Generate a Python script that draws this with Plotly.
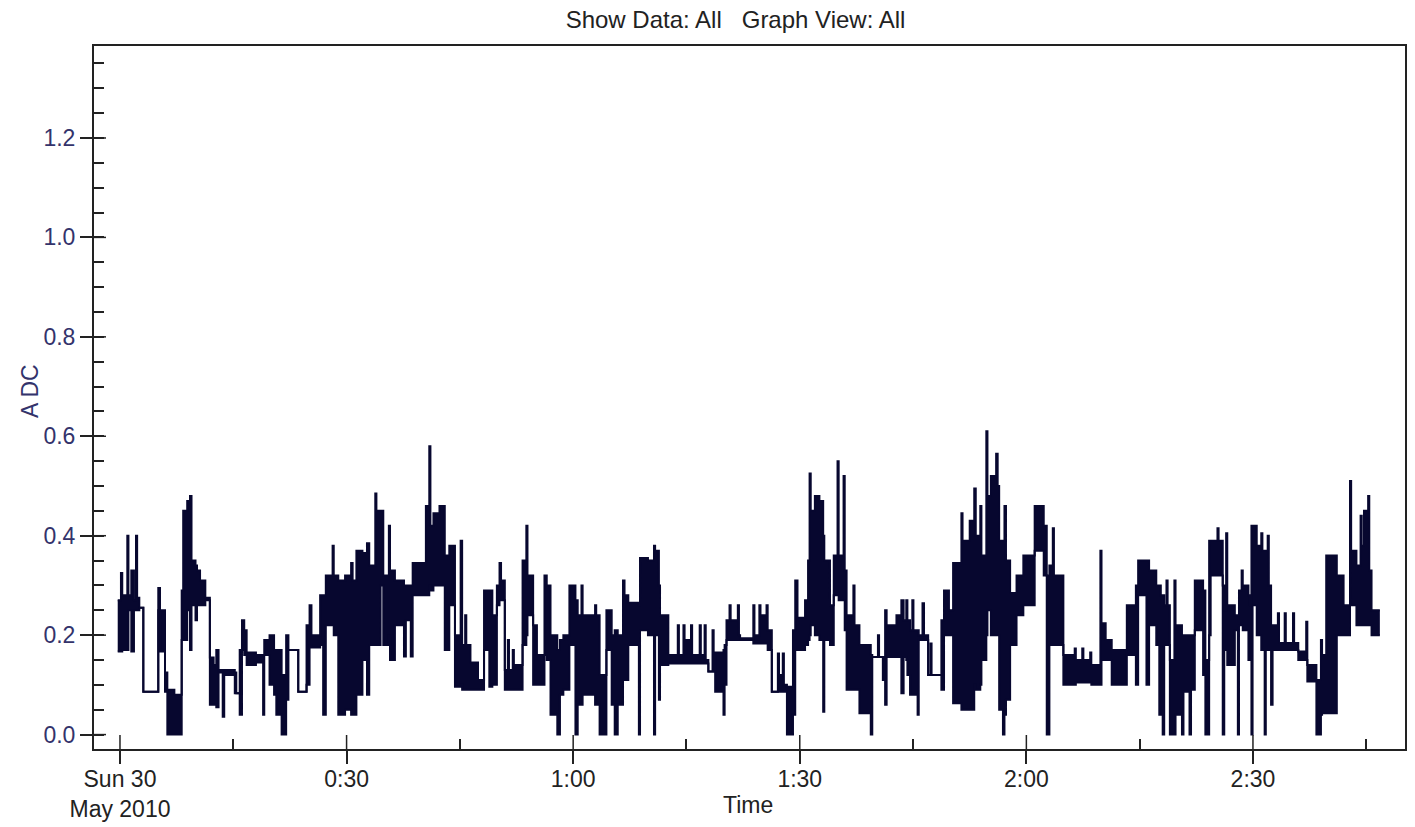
import plotly.graph_objects as go

# ---------------- data (minutes after Sun 30 May 2010 00:00, amps DC) ----------------
# Each segment starts at seg_start_min and spans until the next start.
# seg_high / seg_low give the upper and lower envelope of the trace inside the segment.
seg_start_min = [
    # 0:00 - 0:20
    -0.3, 0.13, 0.3, 0.97, 1.12, 1.5, 1.85, 2.12,
    2.27, 2.56, 3.09, 5.07, 5.3, 5.96, 6.27, 7.2,
    8.17, 8.37, 8.9, 9.27, 9.47, 10.0, 10.2, 10.6,
    11.3, 11.9, 12.4, 12.75, 13.05, 13.6, 13.8, 15.2,
    15.4, 15.85, 16.15, 16.45, 16.77, 18.0, 18.95, 19.1,
    # 0:20 - 0:41
    19.8, 20.4, 20.7, 21.4, 22.0, 22.3, 23.6, 24.7,
    25.1, 25.35, 26.5, 26.9, 27.25, 28.15, 28.3, 28.9,
    29.8, 30.6, 30.8, 31.3, 32.1, 32.7, 33.0, 33.8,
    33.95, 34.5, 34.86, 35.6, 35.75, 36.4, 37.6, 37.85,
    38.5, 38.75, 40.5, 40.95,
    # 0:41 - 1:03
    41.1, 41.5, 42.3, 43.0, 43.6, 44.35, 45.1, 45.3,
    45.7, 45.85, 46.4, 47.4, 48.2, 48.9, 49.3, 49.9,
    50.25, 50.45, 50.95, 51.35, 51.5, 52.0, 52.15, 53.3,
    53.8, 53.95, 54.7, 55.2, 56.2, 56.5, 57.0, 57.9,
    58.25, 58.7, 59.5, 60.3, 60.6, 61.1, 61.25, 62.9,
    63.05,
    # 1:03 - 1:24
    63.5, 64.4, 65.1, 65.5, 65.9, 66.6, 66.8, 67.3,
    68.7, 68.85, 69.9, 70.7, 70.85, 71.35, 71.5, 72.6,
    73.85, 74.0, 74.6, 74.75, 75.6, 75.75, 76.75, 76.9,
    77.4, 77.55, 77.9, 78.45, 78.6, 78.8, 79.9, 80.05,
    80.3, 80.7, 80.85, 81.8, 81.95, 82.1, 83.85,
    # 1:24 - 1:44
    84.0, 84.65, 84.8, 85.6, 85.75, 86.3, 87.1, 87.25,
    87.75, 87.9, 88.3, 89.1, 89.4, 89.7, 90.7, 91.1,
    91.3, 91.45, 92.0, 92.6, 93.1, 93.25, 94.0, 94.5,
    95.0, 95.15, 95.8, 95.95, 96.2, 97.1, 97.25, 97.9,
    99.4, 99.6, 100.35, 100.5, 101.0, 101.3, 101.5, 102.8,
    103.45, 103.75, 104.1, 104.25,
    # 1:44 - 2:06
    104.6, 104.9, 105.05, 105.6, 105.75, 106.25, 106.45, 107.0,
    107.3, 107.45, 108.75, 109.1, 109.75, 110.3, 111.4, 111.55,
    112.5, 113.1, 113.3, 113.9, 114.05, 114.7, 114.85, 115.3,
    116.0, 116.2, 116.4, 116.9, 117.1, 117.3, 117.85, 118.7,
    119.6, 121.1, 122.3, 122.7, 123.05, 123.5, 123.65, 124.9,
    # 2:06 - 2:26
    126.4, 126.55, 127.4, 127.55, 128.45, 128.6, 129.8, 129.95,
    130.5, 131.3, 133.3, 134.5, 134.8, 135.9, 136.25, 137.2,
    137.6, 137.8, 138.05, 138.25, 138.55, 138.7, 139.0, 139.6,
    139.75, 140.6, 140.8, 141.6, 141.8, 142.3, 143.4, 143.7,
    144.2, 144.4, 145.3, 145.45, 146.0, 146.2, 146.45,
    # 2:26 - 2:47
    146.6, 147.6, 148.0, 148.15, 148.5, 148.65, 149.4, 149.6,
    149.8, 149.95, 150.5, 151.1, 151.25, 151.55, 151.7, 151.95,
    152.1, 152.4, 152.6, 153.3, 153.45, 154.2, 154.35, 155.3,
    155.45, 156.0, 157.05, 157.2, 158.4, 159.0, 159.15, 159.7,
    161.1, 162.0, 162.85, 163.0, 163.7, 164.25, 164.4, 164.7,
    165.25, 165.4, 165.7,
]
seg_high = [
    0.27, 0.325, 0.28, 0.40, 0.28, 0.33, 0.27, 0.40,
    0.275, 0.255, 0.086, 0.295, 0.25, 0.125, 0.09, 0.08,
    0.29, 0.45, 0.47, 0.48, 0.35, 0.34, 0.33, 0.31,
    0.275, 0.155, 0.14, 0.17, 0.13, 0.13, 0.13, 0.125,
    0.083, 0.17, 0.23, 0.21, 0.165, 0.16, 0.16, 0.19,
    0.2, 0.17, 0.17, 0.12, 0.2, 0.17, 0.086, 0.22,
    0.26, 0.2, 0.28, 0.28, 0.32, 0.38, 0.32, 0.31,
    0.32, 0.345, 0.31, 0.37, 0.365, 0.385, 0.34, 0.485,
    0.45, 0.45, 0.32, 0.42, 0.33, 0.31, 0.30, 0.30,
    0.30, 0.345, 0.46, 0.58,
    0.42, 0.445, 0.46, 0.36, 0.38, 0.2, 0.39, 0.18,
    0.24, 0.18, 0.145, 0.11, 0.29, 0.29, 0.24, 0.3,
    0.345, 0.31, 0.13, 0.19, 0.13, 0.17, 0.14, 0.35,
    0.42, 0.32, 0.22, 0.16, 0.32, 0.3, 0.2, 0.17,
    0.19, 0.2, 0.30, 0.27, 0.24, 0.3, 0.24, 0.26,
    0.24,
    0.12, 0.25, 0.2, 0.21, 0.2, 0.31, 0.28, 0.265,
    0.26, 0.355, 0.35, 0.38, 0.37, 0.3, 0.24, 0.16,
    0.22, 0.16, 0.22, 0.19, 0.22, 0.16, 0.22, 0.16,
    0.22, 0.15, 0.127, 0.21, 0.127, 0.165, 0.17, 0.18,
    0.23, 0.26, 0.23, 0.26, 0.2, 0.194, 0.26,
    0.2, 0.26, 0.24, 0.26, 0.21, 0.086, 0.163, 0.12,
    0.163, 0.1, 0.096, 0.21, 0.31, 0.235, 0.27, 0.35,
    0.525, 0.45, 0.48, 0.47, 0.4, 0.35, 0.26, 0.36,
    0.55, 0.36, 0.52, 0.33, 0.24, 0.30, 0.22, 0.18,
    0.16, 0.156, 0.2, 0.156, 0.156, 0.25, 0.22, 0.24,
    0.27, 0.23, 0.27, 0.23,
    0.21, 0.27, 0.21, 0.21, 0.2, 0.264, 0.2, 0.12,
    0.183, 0.12, 0.23, 0.29, 0.25, 0.345, 0.445, 0.39,
    0.43, 0.495, 0.4, 0.46, 0.36, 0.61, 0.48, 0.52,
    0.565, 0.5, 0.39, 0.39, 0.46, 0.35, 0.285, 0.32,
    0.36, 0.46, 0.42, 0.32, 0.34, 0.415, 0.32, 0.16,
    0.173, 0.15, 0.173, 0.15, 0.165, 0.14, 0.37, 0.224,
    0.19, 0.17, 0.26, 0.3, 0.35, 0.35, 0.33, 0.3,
    0.3, 0.28, 0.28, 0.26, 0.31, 0.26, 0.15, 0.31,
    0.22, 0.2, 0.2, 0.2, 0.2, 0.31, 0.29, 0.15,
    0.39, 0.39, 0.415, 0.39, 0.3, 0.25, 0.405,
    0.26, 0.24, 0.24, 0.29, 0.33, 0.3, 0.28, 0.26,
    0.42, 0.42, 0.38, 0.405, 0.37, 0.37, 0.37, 0.4,
    0.3, 0.22, 0.22, 0.244, 0.184, 0.244, 0.184, 0.244,
    0.184, 0.167, 0.227, 0.14, 0.11, 0.19, 0.16, 0.36,
    0.32, 0.26, 0.51, 0.37, 0.34, 0.44, 0.38, 0.45,
    0.48, 0.33, 0.25,
]
seg_low = [
    0.167, 0.167, 0.17, 0.17, 0.25, 0.167, 0.25, 0.25,
    0.25, 0.255, 0.086, 0.25, 0.167, 0.086, 0.0, 0.0,
    0.19, 0.19, 0.25, 0.17, 0.26, 0.23, 0.26, 0.26,
    0.27, 0.06, 0.06, 0.055, 0.125, 0.036, 0.12, 0.083,
    0.083, 0.04, 0.17, 0.16, 0.14, 0.145, 0.04, 0.16,
    0.1, 0.08, 0.04, 0.0, 0.07, 0.17, 0.086, 0.1,
    0.18, 0.175, 0.18, 0.04, 0.22, 0.22, 0.2, 0.04,
    0.05, 0.04, 0.04, 0.08, 0.15, 0.08, 0.18, 0.18,
    0.18, 0.3, 0.18, 0.2, 0.15, 0.22, 0.157, 0.23,
    0.157, 0.28, 0.28, 0.3,
    0.29, 0.30, 0.30, 0.17, 0.26, 0.096, 0.1, 0.09,
    0.09, 0.09, 0.09, 0.09, 0.17, 0.096, 0.1, 0.26,
    0.27, 0.27, 0.09, 0.09, 0.09, 0.09, 0.09, 0.18,
    0.2, 0.24, 0.1, 0.1, 0.16, 0.15, 0.04, 0.0,
    0.08, 0.09, 0.18, 0.0, 0.06, 0.06, 0.08, 0.06,
    0.06,
    0.0, 0.17, 0.06, 0.0, 0.06, 0.11, 0.11, 0.18,
    0.0, 0.21, 0.2, 0.0, 0.2, 0.07, 0.14, 0.143,
    0.143, 0.143, 0.143, 0.143, 0.143, 0.143, 0.143, 0.143,
    0.143, 0.143, 0.127, 0.127, 0.127, 0.086, 0.04, 0.1,
    0.19, 0.19, 0.19, 0.19, 0.19, 0.19, 0.183,
    0.183, 0.183, 0.183, 0.183, 0.17, 0.086, 0.086, 0.086,
    0.086, 0.086, 0.0, 0.04, 0.17, 0.17, 0.18, 0.19,
    0.2, 0.22, 0.2, 0.19, 0.046, 0.19, 0.18, 0.28,
    0.28, 0.27, 0.27, 0.21, 0.09, 0.09, 0.09, 0.043,
    0.0, 0.156, 0.156, 0.156, 0.11, 0.06, 0.156, 0.156,
    0.083, 0.156, 0.15, 0.12,
    0.08, 0.08, 0.08, 0.04, 0.19, 0.19, 0.19, 0.12,
    0.12, 0.12, 0.09, 0.2, 0.2, 0.063, 0.05, 0.05,
    0.05, 0.1, 0.09, 0.1, 0.15, 0.2, 0.25, 0.2,
    0.2, 0.2, 0.05, 0.0, 0.04, 0.07, 0.18, 0.24,
    0.26, 0.37, 0.32, 0.0, 0.18, 0.18, 0.18, 0.1,
    0.1, 0.105, 0.105, 0.105, 0.105, 0.1, 0.1, 0.15,
    0.15, 0.1, 0.16, 0.1, 0.28, 0.1, 0.22, 0.18,
    0.04, 0.18, 0.0, 0.18, 0.18, 0.18, 0.0, 0.0,
    0.04, 0.0, 0.086, 0.0, 0.09, 0.21, 0.12, 0.0,
    0.2, 0.32, 0.32, 0.32, 0.0, 0.17, 0.17,
    0.14, 0.21, 0.0, 0.22, 0.22, 0.21, 0.15, 0.15,
    0.0, 0.26, 0.2, 0.17, 0.17, 0.0, 0.17, 0.17,
    0.17, 0.06, 0.17, 0.17, 0.17, 0.17, 0.17, 0.17,
    0.17, 0.15, 0.15, 0.107, 0.0, 0.04, 0.043, 0.043,
    0.2, 0.2, 0.26, 0.26, 0.22, 0.22, 0.22, 0.22,
    0.22, 0.22, 0.2,
]
end_min = 166.8

x_tick_vals = [0, 30, 60, 90, 120, 150]
x_tick_text = ["Sun 30<br>May 2010", "0:30", "1:00", "1:30", "2:00", "2:30"]
x_minor_vals = [15, 45, 75, 105, 135, 165]
y_tick_vals = [0.0, 0.2, 0.4, 0.6, 0.8, 1.0, 1.2]
y_tick_text = ["0.0", "0.2", "0.4", "0.6", "0.8", "1.0", "1.2"]

assert len(seg_start_min) == len(seg_high) == len(seg_low), (
    len(seg_start_min), len(seg_high), len(seg_low))

# ---------------- figure ----------------
LINE = "#07072f"
NAVY = "#33336b"
DARK = "#222222"
FONT = "Liberation Sans, Arial, sans-serif"
FS = 23

xs = seg_start_min + [end_min]
y_hi = seg_high + [seg_high[-1]]
y_lo = seg_low + [seg_low[-1]]

fig = go.Figure()
fig.add_trace(go.Scatter(x=xs, y=y_lo, mode="lines",
                         line=dict(color=LINE, width=2, shape="hv"),
                         hoverinfo="skip", showlegend=False))
fig.add_trace(go.Scatter(x=xs, y=y_hi, mode="lines",
                         line=dict(color=LINE, width=2, shape="hv"),
                         fill="tonexty", fillcolor=LINE,
                         showlegend=False))

W, H = 1415, 827
ML, MR, MT, MB = 94, 10, 46, 78
plot_w = W - ML - MR
plot_h = H - MT - MB

# inner halves of the major ticks (ticks cross the axis lines)
shapes = []
for v in x_tick_vals:
    shapes.append(dict(type="line", xref="x", yref="paper", x0=v, x1=v,
                       y0=0, y1=14 / plot_h, line=dict(color=DARK, width=1.5)))
for v in y_tick_vals:
    shapes.append(dict(type="line", xref="paper", yref="y", x0=0, x1=12 / plot_w,
                       y0=v, y1=v, line=dict(color=DARK, width=1.5)))

fig.update_layout(
    width=W, height=H,
    margin=dict(l=ML, r=MR, t=MT, b=MB, autoexpand=False),
    paper_bgcolor="white", plot_bgcolor="white",
    font=dict(family=FONT, size=FS, color=DARK),
    title=dict(text="Show Data: All\u00a0\u00a0\u00a0Graph View: All",
               x=735.5 / W, xanchor="center", xref="container",
               y=1 - 20 / H, yanchor="middle", yref="container",
               font=dict(family=FONT, size=24, color=DARK)),
    xaxis=dict(range=[-3.44, 170.13], tickmode="array",
               tickvals=x_tick_vals, ticktext=x_tick_text,
               ticks="outside", ticklen=13, tickwidth=1.5, tickcolor=DARK,
               ticklabelstandoff=-5,
               showline=True, linecolor=DARK, linewidth=2, mirror=True,
               showgrid=False, zeroline=False,
               tickfont=dict(family=FONT, size=FS, color=DARK),
               minor=dict(tickmode="array", tickvals=x_minor_vals,
                          ticks="inside", ticklen=10, tickwidth=1.5,
                          tickcolor=DARK, showgrid=False)),
    yaxis=dict(range=[-0.029, 1.385], tickmode="array",
               tickvals=y_tick_vals, ticktext=y_tick_text,
               ticks="outside", ticklen=12, tickwidth=1.5, tickcolor=DARK,
               showline=True, linecolor=DARK, linewidth=2, mirror=True,
               showgrid=False, zeroline=False,
               tickfont=dict(family=FONT, size=FS, color=NAVY),
               minor=dict(tickmode="linear", tick0=0, dtick=0.05,
                          ticks="inside", ticklen=10, tickwidth=1.5,
                          tickcolor=DARK, showgrid=False)),
    shapes=shapes,
    annotations=[
        dict(text="Time", xref="paper", yref="paper",
             x=(748 - ML) / plot_w, y=-(805 - (MT + plot_h)) / plot_h,
             xanchor="center", yanchor="middle", showarrow=False,
             font=dict(family=FONT, size=FS, color=DARK)),
        dict(text="A DC", xref="paper", yref="paper", textangle=-90,
             x=(30 - ML) / plot_w, y=(MT + plot_h - 391) / plot_h,
             xanchor="center", yanchor="middle", showarrow=False,
             font=dict(family=FONT, size=FS, color=NAVY)),
    ],
)

fig.write_html("out.html",
               config={"displayModeBar": False},
               post_script="document.body.style.margin='0px';"
                           "document.body.style.padding='0px';")
